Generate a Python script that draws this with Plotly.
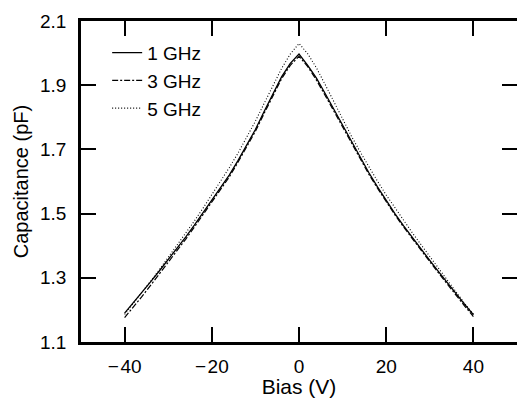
import plotly.graph_objects as go

bias = list(range(-40, 42, 2))

c_1ghz = [1.190, 1.222, 1.254, 1.288, 1.322, 1.356, 1.391, 1.427, 1.464, 1.502,
          1.541, 1.580, 1.620, 1.665, 1.712, 1.762, 1.818, 1.872, 1.926, 1.968,
          1.997,
          1.962, 1.922, 1.874, 1.825, 1.775, 1.725, 1.676, 1.628, 1.583, 1.541,
          1.500, 1.462, 1.425, 1.390, 1.354, 1.319, 1.284, 1.250, 1.217, 1.185]

c_3ghz = [1.176, 1.208, 1.242, 1.277, 1.312, 1.347, 1.383, 1.420, 1.458, 1.497,
          1.536, 1.575, 1.614, 1.660, 1.706, 1.756, 1.812, 1.866, 1.920, 1.962,
          1.990,
          1.958, 1.916, 1.868, 1.819, 1.769, 1.719, 1.670, 1.623, 1.579, 1.536,
          1.496, 1.458, 1.421, 1.386, 1.350, 1.315, 1.280, 1.246, 1.212, 1.179]

c_5ghz = [1.186, 1.220, 1.254, 1.290, 1.326, 1.363, 1.400, 1.438, 1.477, 1.517,
          1.558, 1.600, 1.643, 1.688, 1.736, 1.788, 1.843, 1.898, 1.952, 1.997,
          2.030,
          1.998, 1.954, 1.902, 1.848, 1.795, 1.742, 1.693, 1.646, 1.601, 1.558,
          1.518, 1.478, 1.440, 1.403, 1.366, 1.329, 1.292, 1.256, 1.220, 1.187]

x_ticks = [-40, -20, 0, 20, 40]
x_ticktext = ["\u2212\u200a40", "\u2212\u200a20", "0", "20", "40"]
y_ticks = [1.1, 1.3, 1.5, 1.7, 1.9, 2.1]
y_ticktext = ["1.1", "1.3", "1.5", "1.7", "1.9", "2.1"]

FONT = "Liberation Sans, Arial, Helvetica, sans-serif"

fig = go.Figure()
fig.add_trace(go.Scatter(x=bias, y=c_1ghz, mode="lines", name="1 GHz",
                         line=dict(color="black", width=1.3, dash="solid")))
fig.add_trace(go.Scatter(x=bias, y=c_3ghz, mode="lines", name="3 GHz",
                         line=dict(color="black", width=1.2, dash="6px,2px,2px,2px")))
fig.add_trace(go.Scatter(x=bias, y=c_5ghz, mode="lines", name="5 GHz",
                         line=dict(color="black", width=1.1, dash="1px,2px")))
# invisible trace on right axis to carry mirrored ticks
fig.add_trace(go.Scatter(x=[bias[0]], y=[c_1ghz[0]], yaxis="y2", mode="lines",
                         showlegend=False, hoverinfo="skip",
                         line=dict(color="rgba(0,0,0,0)")))

fig.update_layout(
    width=517, height=398,
    margin=dict(l=81, r=0, t=21, b=56),
    paper_bgcolor="white", plot_bgcolor="white",
    font=dict(family=FONT, size=19, color="black"),
    showlegend=True,
    legend=dict(x=0.06, y=0.96, xanchor="left", yanchor="top",
                bgcolor="rgba(0,0,0,0)", font=dict(size=19),
                itemwidth=30, tracegroupgap=0),
    xaxis=dict(range=[-50, 50], tickvals=x_ticks, ticktext=x_ticktext,
               ticks="inside", ticklen=15, tickwidth=1.5, tickcolor="black",
               showline=True, linecolor="black", linewidth=2.5, mirror="ticks",
               showgrid=False, zeroline=False, tickfont=dict(size=19),
               title=dict(text="Bias (V)", standoff=4, font=dict(size=21)),
               ticklabelstandoff=5),
    yaxis=dict(range=[1.1, 2.1], tickvals=y_ticks, ticktext=y_ticktext,
               ticks="inside", ticklen=15, tickwidth=1.5, tickcolor="black",
               showline=True, linecolor="black", linewidth=2.5,
               showgrid=False, zeroline=False, tickfont=dict(size=19),
               title=dict(text="Capacitance (pF)", standoff=7, font=dict(size=20)),
               ticklabelstandoff=8),
    yaxis2=dict(range=[1.1, 2.1], tickvals=y_ticks, overlaying="y", side="right",
                ticks="inside", ticklen=15, tickwidth=1.5, tickcolor="black",
                showline=False, showticklabels=False, showgrid=False, zeroline=False),
)

fig.write_html("out.html")
